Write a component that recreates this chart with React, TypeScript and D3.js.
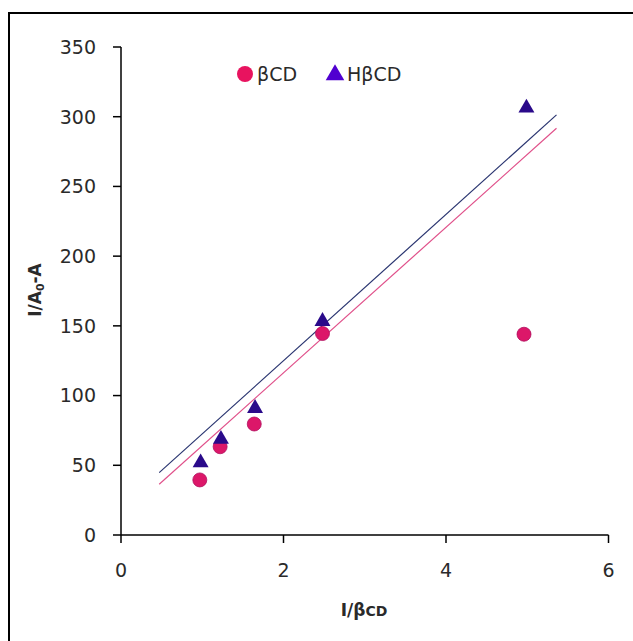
import React from "react";
import * as d3 from "d3";

const xBCD = [0.97, 1.22, 1.64, 2.48, 4.96];
const yBCD = [39.5, 63.3, 79.6, 144.5, 144];
const xHBCD = [0.98, 1.23, 1.65, 2.48, 4.99];
const yHBCD = [52.6, 69.4, 91.6, 154, 307];
const trendX = [0.47, 5.36];
const trendBCD = [36.4, 291.7];
const trendHBCD = [44.7, 301.3];
const xTicks = [0, 2, 4, 6];
const yTicks = [0, 50, 100, 150, 200, 250, 300, 350];

const W = 633;
const H = 641;
const FONT = "'DejaVu Sans', Verdana, sans-serif";
const FS = 19;

export default function App() {
  const x = d3.scaleLinear().domain([0, 6]).range([121, 608.5]);
  const y = d3.scaleLinear().domain([0, 350]).range([535, 47]);
  const line = d3.line<[number, number]>().x((d) => x(d[0])).y((d) => y(d[1]));
  const tri = d3.symbol().type(d3.symbolTriangle).size(110)();
  const triLeg = d3.symbol().type(d3.symbolTriangle).size(150)();
  const pink = "#dc1769";
  const navy = "#2a0a8a";

  return (
    <svg width={W} height={H} style={{ position: "absolute", left: 0, top: 0, background: "#fff" }}>
      <rect x={9} y={13} width={W} height={H} fill="#fff" stroke="#000" strokeWidth={2} />
      {/* trend lines */}
      <path d={line(trendX.map((v, i) => [v, trendBCD[i]]) as any) || ""} stroke="#e0508a" strokeWidth={1.2} fill="none" />
      <path d={line(trendX.map((v, i) => [v, trendHBCD[i]]) as any) || ""} stroke="#2a3570" strokeWidth={1.2} fill="none" />
      {/* axes */}
      <line x1={x(0)} x2={x(0)} y1={y(350)} y2={y(0)} stroke="#000" strokeWidth={1.5} />
      <line x1={x(0)} x2={x(6)} y1={y(0)} y2={y(0)} stroke="#000" strokeWidth={1.5} />
      {yTicks.map((t) => (
        <g key={"y" + t}>
          <line x1={x(0) - 8} x2={x(0)} y1={y(t)} y2={y(t)} stroke="#000" strokeWidth={1.5} />
          <text x={96} y={y(t)} dy="0.36em" textAnchor="end" fontFamily={FONT} fontSize={FS} fill="#2a2a2a">
            {t}
          </text>
        </g>
      ))}
      {xTicks.map((t) => (
        <g key={"x" + t}>
          <line x1={x(t)} x2={x(t)} y1={y(0)} y2={y(0) + 8} stroke="#000" strokeWidth={1.5} />
          <text x={x(t)} y={570} dy="0.36em" textAnchor="middle" fontFamily={FONT} fontSize={FS} fill="#2a2a2a">
            {t}
          </text>
        </g>
      ))}
      {/* axis titles */}
      <text x={364} y={610} dy="0.36em" textAnchor="middle" fontFamily={FONT} fontSize={17} fontWeight="bold" fill="#2a2a2a">
        I/β<tspan fontSize={14}>CD</tspan>
      </text>
      <text transform="translate(41,290) rotate(-90)" textAnchor="middle" fontFamily={FONT} fontSize={17} fontWeight="bold" fill="#2a2a2a">
        I/A<tspan fontSize={11} dy="3">0</tspan><tspan dy="-3">-A</tspan>
      </text>
      {/* points */}
      {xBCD.map((v, i) => (
        <circle key={"c" + i} cx={x(v)} cy={y(yBCD[i])} r={7} fill={pink} stroke="#b01060" strokeWidth={0.8} />
      ))}
      {xHBCD.map((v, i) => (
        <path key={"t" + i} d={tri || ""} transform={`translate(${x(v)},${y(yHBCD[i]) + 1})`} fill={navy} />
      ))}
      {/* legend */}
      <circle cx={245} cy={74} r={8} fill="#e8135f" />
      <text x={257} y={74} dy="0.36em" fontFamily={FONT} fontSize={FS} fill="#2a2a2a">
        βCD
      </text>
      <path d={triLeg || ""} transform="translate(335,75)" fill="#5000d0" />
      <text x={347} y={74} dy="0.36em" fontFamily={FONT} fontSize={FS} fill="#2a2a2a">
        HβCD
      </text>
    </svg>
  );
}
